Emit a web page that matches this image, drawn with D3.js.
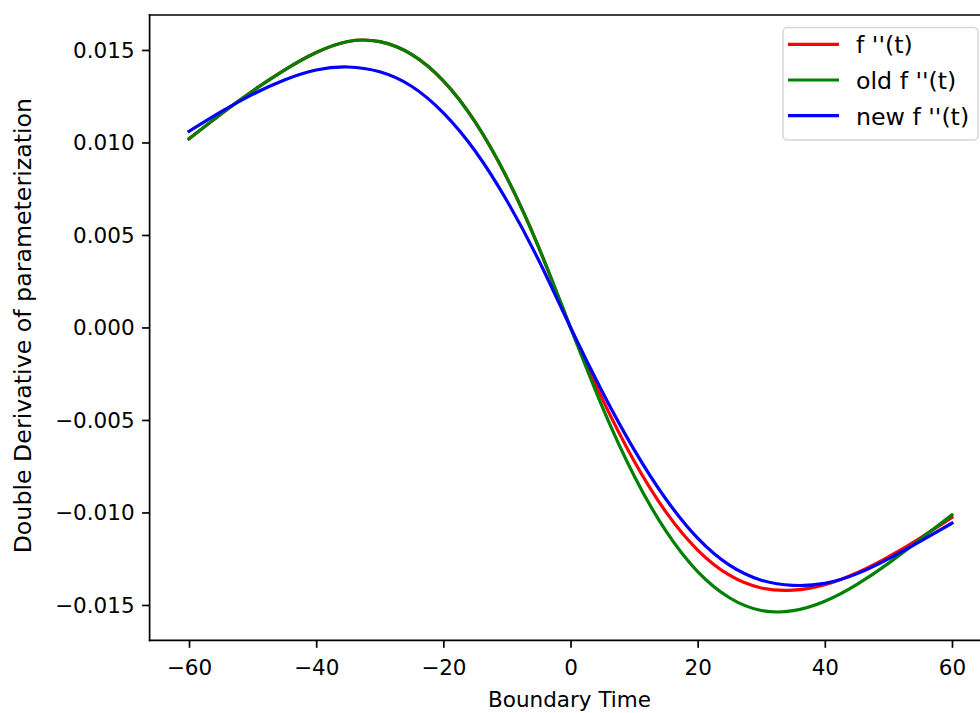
<!DOCTYPE html>
<html>
<head>
<meta charset="utf-8">
<script src="https://cdn.jsdelivr.net/npm/d3@7"></script>
<style>
  html, body { margin: 0; padding: 0; background: #fff; }
  svg { display: block; overflow: hidden; }
</style>
</head>
<body>
<svg id="chart" width="980" height="713"></svg>
<script>
// ---- data ----
const tValues = [-60,-55,-50,-45,-40,-35,-30,-25,-20,-15,-10,-5,0,5,10,15,20,25,30,35,40,45,50,55,60];
const fSecond = [0.01020,0.01153,0.01278,0.01391,0.01486,0.01546,0.01545,0.01476,0.01333,0.01111,0.00809,0.00433,0,
                 -0.00386,-0.00722,-0.00997,-0.01203,-0.01339,-0.01408,-0.01420,-0.01390,-0.01327,-0.01240,-0.01138,-0.01027];
const oldFSecond = [0.01020,0.01153,0.01278,0.01391,0.01486,0.01546,0.01545,0.01476,0.01333,0.01111,0.00809,0.00433,0,
                 -0.00429,-0.00801,-0.01100,-0.01320,-0.01461,-0.01530,-0.01531,-0.01480,-0.01390,-0.01275,-0.01145,-0.01013];
const newFSecond = [0.01060,0.01165,0.01260,0.01338,0.01392,0.01408,0.01382,0.01304,0.01160,0.00954,0.00685,0.00363,0,
                 -0.00347,-0.00660,-0.00927,-0.01139,-0.01285,-0.01366,-0.01394,-0.01383,-0.01332,-0.01251,-0.01156,-0.01058];
const seriesNames = ["f ''(t)", "old f ''(t)", "new f ''(t)"];
const seriesColors = ["#ff0000", "#008000", "#0000ff"];
const xTicks = [-60,-40,-20,0,20,40,60];
const yTicks = [0.015,0.010,0.005,0.000,-0.005,-0.010,-0.015];
const xLabel = "Boundary Time";
const yLabel = "Double Derivative of parameterization";

(function draw() {
  const svg = d3.select("#chart");
  const pL = 149.6, pR = 991.4, pT = 15, pB = 640.3;
  const x = d3.scaleLinear().domain([-66.2, 66.2]).range([pL, pR]);
  const y = d3.scaleLinear().domain([-0.01691, 0.01689]).range([pB, pT]);
  const FONT = "DejaVu Sans, sans-serif";
  const minus = s => s.replace("-", "\u2212");

  // lines
  const series = [fSecond, oldFSecond, newFSecond];
  const line = d3.line().x(d => x(d[0])).y(d => y(d[1])).curve(d3.curveNatural);
  const plot = svg.append("g");
  series.forEach((vals, i) => {
    plot.append("path")
      .datum(tValues.map((t, j) => [t, vals[j]]))
      .attr("d", line)
      .attr("fill", "none")
      .attr("stroke", seriesColors[i])
      .attr("stroke-width", 3.2)
      .attr("stroke-linecap", "square")
      .attr("stroke-linejoin", "round");
  });

  // axes
  const xAxis = d3.axisBottom(x).tickValues(xTicks).tickSize(7.5).tickPadding(12)
    .tickFormat(d => minus(d3.format("d")(d)));
  const yAxis = d3.axisLeft(y).tickValues(yTicks).tickSize(7.5).tickPadding(7.5)
    .tickFormat(d => minus(d3.format(".3f")(d)));

  const gx = svg.append("g").attr("transform", `translate(0,${pB})`).call(xAxis);
  const gy = svg.append("g").attr("transform", `translate(${pL},0)`).call(yAxis);
  [gx, gy].forEach(g => {
    g.select(".domain").remove();
    g.selectAll(".tick line").attr("stroke", "#000").attr("stroke-width", 1.7);
    g.selectAll(".tick text").attr("fill", "#000").style("font-family", FONT).style("font-size", "21.5px");
  });
  gy.selectAll(".tick text").attr("dy", "0.34em");

  // spines
  const sp = svg.append("g").attr("stroke", "#000").attr("stroke-width", 1.7).attr("fill", "none");
  sp.append("line").attr("x1", pL).attr("x2", pL).attr("y1", pT).attr("y2", pB).attr("stroke-linecap", "square");
  sp.append("line").attr("x1", pL).attr("x2", pR).attr("y1", pB).attr("y2", pB).attr("stroke-linecap", "square");
  sp.append("line").attr("x1", pL).attr("x2", pR).attr("y1", pT).attr("y2", pT).attr("stroke-linecap", "square");
  sp.append("line").attr("x1", pR).attr("x2", pR).attr("y1", pT).attr("y2", pB);

  // axis labels
  svg.append("text").attr("x", (pL + pR) / 2 - 1).attr("y", 706.5)
    .attr("text-anchor", "middle").style("font-family", FONT).style("font-size", "21.5px").text(xLabel);
  svg.append("text").attr("transform", `translate(31,${(pT + pB) / 2 - 2}) rotate(-90)`)
    .attr("text-anchor", "middle").style("font-family", FONT).style("font-size", "23.7px").text(yLabel);

  // legend
  const leg = svg.append("g");
  leg.append("rect").attr("x", 783).attr("y", 27.5).attr("width", 195).attr("height", 112.5)
    .attr("rx", 4.5).attr("fill", "#fff").attr("fill-opacity", 0.8)
    .attr("stroke", "#d6d6d6").attr("stroke-width", 1.5);
  const rowY = [44.3, 80, 115.7];
  seriesNames.forEach((name, i) => {
    leg.append("line").attr("x1", 789.6).attr("x2", 837.4).attr("y1", rowY[i]).attr("y2", rowY[i])
      .attr("stroke", seriesColors[i]).attr("stroke-width", 3.2).attr("stroke-linecap", "square");
    leg.append("text").attr("x", 856).attr("y", rowY[i] + 9)
      .style("font-family", FONT).style("font-size", "23.7px").text(name);
  });
})();
</script>
</body>
</html>
